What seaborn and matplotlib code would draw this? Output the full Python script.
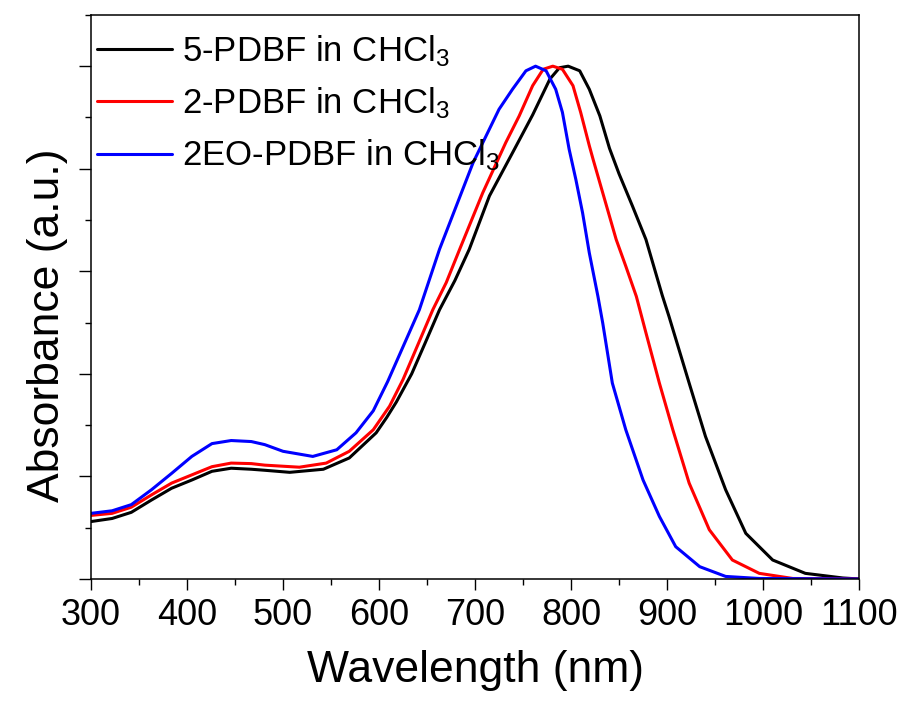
import numpy as np
import pandas as pd
import matplotlib
matplotlib.use("Agg")
import matplotlib.pyplot as plt
from matplotlib.ticker import MultipleLocator
import seaborn as sns

# UV-vis-NIR absorption spectra (normalised) of the three polymers in chloroform
wl_5pdbf = [300, 322, 342, 363, 384, 405, 426, 446, 467, 481, 507, 542, 569,
            597, 608, 618, 634, 648, 663, 679, 694, 715, 741, 760, 778, 788,
            797, 809, 819, 830, 840, 850, 864, 878, 895, 902, 923, 940, 961,
            982, 1010, 1044, 1083, 1100]
abs_5pdbf = [0.112, 0.118, 0.130, 0.154, 0.177, 0.193, 0.210, 0.216, 0.214,
             0.212, 0.208, 0.214, 0.236, 0.285, 0.315, 0.345, 0.400, 0.460,
             0.525, 0.582, 0.643, 0.747, 0.838, 0.905, 0.975, 0.997, 1.000,
             0.991, 0.955, 0.903, 0.840, 0.790, 0.727, 0.662, 0.553, 0.512,
             0.382, 0.278, 0.174, 0.089, 0.037, 0.011, 0.002, 0.000]

wl_2pdbf = [300, 322, 342, 363, 384, 405, 426, 446, 467, 481, 517, 545, 569,
            594, 611, 625, 656, 670, 684, 708, 732, 746, 760, 771, 781, 791,
            802, 810, 819, 823, 833, 847, 857, 868, 878, 892, 906, 923, 944,
            968, 996, 1031, 1100]
abs_2pdbf = [0.124, 0.128, 0.140, 0.164, 0.187, 0.203, 0.219, 0.226, 0.225,
             0.222, 0.218, 0.226, 0.249, 0.291, 0.337, 0.389, 0.525, 0.578,
             0.643, 0.753, 0.851, 0.903, 0.962, 0.994, 1.000, 0.994, 0.962,
             0.910, 0.845, 0.818, 0.753, 0.662, 0.610, 0.551, 0.480, 0.382,
             0.291, 0.187, 0.096, 0.037, 0.011, 0.001, 0.000]

wl_2eo = [300, 322, 342, 363, 384, 405, 426, 446, 467, 481, 500, 531, 556,
          576, 594, 609, 642, 663, 698, 725, 739, 753, 763, 774, 784, 791,
          798, 805, 812, 819, 828, 833, 843, 857, 875, 892, 909, 934, 961,
          996, 1100]
abs_2eo = [0.128, 0.133, 0.145, 0.174, 0.206, 0.239, 0.264, 0.270, 0.268,
           0.262, 0.249, 0.239, 0.252, 0.285, 0.328, 0.385, 0.525, 0.643,
           0.812, 0.916, 0.955, 0.991, 1.000, 0.991, 0.955, 0.910, 0.838,
           0.779, 0.714, 0.636, 0.551, 0.499, 0.382, 0.291, 0.193, 0.122,
           0.063, 0.024, 0.005, 0.001, 0.000]

labels = ["5-PDBF in CHCl$_3$", "2-PDBF in CHCl$_3$", "2EO-PDBF in CHCl$_3$"]
colors = ["#000000", "#ff0000", "#0000ff"]

frames = []
for lab, wl, ab in zip(labels, [wl_5pdbf, wl_2pdbf, wl_2eo],
                       [abs_5pdbf, abs_2pdbf, abs_2eo]):
    frames.append(pd.DataFrame({"wavelength": wl, "absorbance": ab, "sample": lab}))
df = pd.concat(frames, ignore_index=True)

sns.set_theme(style="ticks")
plt.rcParams["font.family"] = ["Liberation Sans", "DejaVu Sans"]
plt.rcParams["mathtext.fontset"] = "custom"
plt.rcParams["mathtext.rm"] = "Liberation Sans"
plt.rcParams["mathtext.it"] = "Liberation Sans:italic"
plt.rcParams["mathtext.default"] = "regular"
plt.rcParams["text.color"] = "black"
plt.rcParams["axes.labelcolor"] = "black"
plt.rcParams["xtick.color"] = "black"
plt.rcParams["ytick.color"] = "black"

fig = plt.figure(figsize=(9.09, 7.06), dpi=100)
ax = fig.add_axes([0.1001, 0.1799, 0.845, 0.799])

sns.lineplot(data=df, x="wavelength", y="absorbance", hue="sample",
             palette=dict(zip(labels, colors)), hue_order=labels,
             estimator=None, sort=True, linewidth=2.2, ax=ax, legend=False)

ax.set_xlim(300, 1100)
ax.set_ylim(0, 1.1)
ax.xaxis.set_major_locator(MultipleLocator(100))
ax.xaxis.set_minor_locator(MultipleLocator(50))
ax.yaxis.set_major_locator(MultipleLocator(0.2))
ax.yaxis.set_minor_locator(MultipleLocator(0.1))
ax.set_yticklabels([])

for side in ["top", "right", "bottom", "left"]:
    ax.spines[side].set_visible(True)
    ax.spines[side].set_linewidth(1.1)
    ax.spines[side].set_color("black")

ax.tick_params(axis="x", which="major", direction="out", length=8, width=1.0,
               labelsize=26, pad=6)
ax.tick_params(axis="x", which="minor", direction="out", length=4, width=1.0)
ax.tick_params(axis="y", which="major", direction="out", length=9, width=1.0)
ax.tick_params(axis="y", which="minor", direction="out", length=4.5, width=1.0)
ax.tick_params(top=False, right=False, which="both")

ax.set_xlabel("Wavelength (nm)", fontsize=32, labelpad=12)
ax.set_ylabel("Absorbance (a.u.)", fontsize=32)
ax.yaxis.set_label_coords(-0.03, 0.449)

handles = [plt.Line2D([], [], color=c, linewidth=2.2) for c in colors]
ax.legend(handles, labels, loc="upper left", bbox_to_anchor=(0.008, 0.968),
          frameon=False, fontsize=25, handlelength=2.15, handletextpad=0.3,
          labelspacing=0.48, borderaxespad=0.0, borderpad=0.0)

fig.savefig("out.png", dpi=100)
